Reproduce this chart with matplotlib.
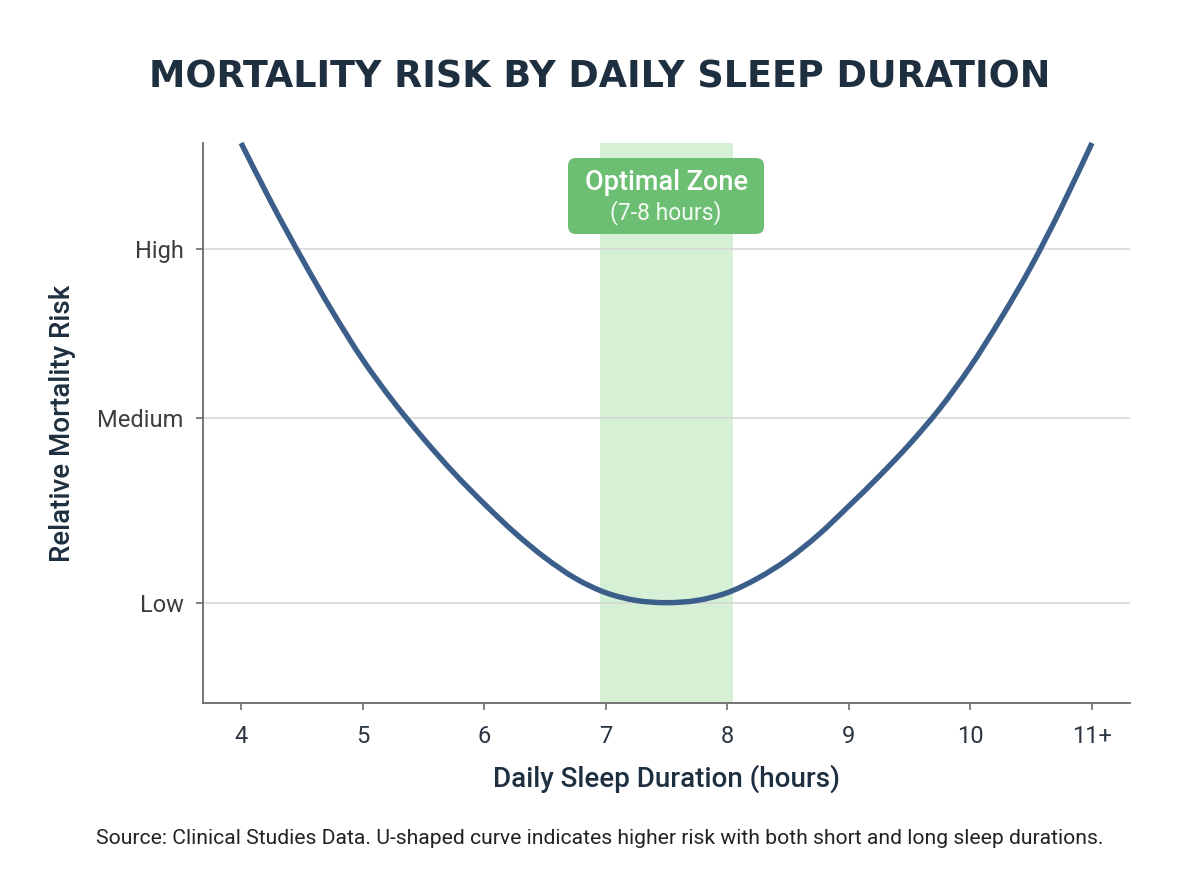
import matplotlib
matplotlib.use("Agg")
import matplotlib.pyplot as plt
import numpy as np
from matplotlib.patches import FancyBboxPatch, PathPatch
from matplotlib.path import Path

# curve, every quarter hour
hours = [4, 4.25, 4.5, 4.75, 5, 5.25, 5.5, 5.75, 6, 6.25, 6.5, 6.75, 7, 7.25,
         7.5, 7.75, 8, 8.25, 8.5, 8.75, 9, 9.25, 9.5, 9.75, 10, 10.25, 10.5,
         10.75, 11]
risk = [2.246, 2.084, 1.933, 1.790, 1.659, 1.546, 1.445, 1.352, 1.268, 1.190,
        1.122, 1.066, 1.027, 1.006, 1.000, 1.006, 1.027, 1.066, 1.118, 1.184,
        1.262, 1.343, 1.430, 1.527, 1.640, 1.770, 1.912, 2.072, 2.246]

x_ticks = [4, 5, 6, 7, 8, 9, 10, 11]
x_labels = ["4", "5", "6", "7", "8", "9", "10", "11+"]
y_ticks = [1.0, 1.5, 1.958]
y_labels = ["Low", "Medium", "High"]
optimal = (6.95, 8.05)

plt.rcParams["font.family"] = ["Roboto", "DejaVu Sans"]


def smooth_path(xs, ys):
    # cubic bezier segments through the read points (catmull-rom tangents)
    p = np.column_stack([xs, ys])
    verts = [p[0]]
    codes = [Path.MOVETO]
    for i in range(len(p) - 1):
        p0 = p[i - 1] if i > 0 else p[i]
        p3 = p[i + 2] if i + 2 < len(p) else p[i + 1]
        c1 = p[i] + (p[i + 1] - p0) / 6
        c2 = p[i + 1] - (p3 - p[i]) / 6
        verts += [c1, c2, p[i + 1]]
        codes += [Path.CURVE4] * 3
    return Path(verts, codes)


navy = "#1e2f40"
fig = plt.figure(figsize=(12, 8.96), dpi=100)
ax = fig.add_axes([0.1692, 0.2154, 0.7725, 0.625])

ax.axvspan(optimal[0], optimal[1], color="#d6f0d6", zorder=0, lw=0)
curve = PathPatch(smooth_path(hours, risk), facecolor="none",
                  edgecolor="#3b5f8a", lw=3.9, capstyle="butt", zorder=3,
                  clip_on=False)
ax.add_patch(curve)

ax.set_xlim(3.687, 11.313)
ax.set_ylim(0.728, 2.246)
ax.set_xticks(x_ticks)
ax.set_xticklabels(x_labels)
ax.set_yticks(y_ticks)
ax.set_yticklabels(y_labels)
ax.grid(axis="y", color="#d4d4d4", lw=1.1, zorder=1)
ax.set_axisbelow(True)

for s in ["top", "right"]:
    ax.spines[s].set_visible(False)
for s in ["left", "bottom"]:
    ax.spines[s].set_color("#6b6b6b")
    ax.spines[s].set_linewidth(1.3)

ax.tick_params(axis="both", length=5, width=1.2, color="#6b6b6b")
ax.tick_params(axis="x", labelsize=17, labelcolor="#2b3642", pad=11)
ax.tick_params(axis="y", labelsize=17, labelcolor="#3d3d3d", pad=9)

ax.set_xlabel("Daily Sleep Duration (hours)", fontsize=20, fontweight="medium",
              color=navy, va="center")
ax.xaxis.set_label_coords(0.5, -0.136)
ax.set_ylabel("Relative Mortality Risk", fontsize=20, fontweight="medium",
              color=navy, va="center")
ax.yaxis.set_label_coords(-0.152, 0.5)

# label box over the optimal zone
box = FancyBboxPatch((568 / 1200, 1 - 234 / 896), 196 / 1200, 76 / 896,
                     boxstyle="round,pad=0,rounding_size=0.0065",
                     mutation_aspect=1200 / 896, transform=fig.transFigure,
                     facecolor="#6cbf72", edgecolor="none", zorder=5)
fig.patches.append(box)
fig.text(666 / 1200, 1 - 183 / 896, "Optimal Zone", ha="center", va="center",
         fontsize=19.5, fontweight="medium", color="white", zorder=6)
fig.text(666 / 1200, 1 - 213 / 896, "(7-8 hours)", ha="center", va="center",
         fontsize=16.5, color="white", alpha=0.92, zorder=6)

fig.text(0.5, 1 - 77 / 896, "MORTALITY RISK BY DAILY SLEEP DURATION",
         ha="center", va="center", fontsize=26.3, fontweight="bold", color=navy,
         family=["DejaVu Sans"])

fig.text(0.5, 1 - 838 / 896,
         "Source: Clinical Studies Data. U-shaped curve indicates higher risk "
         "with both short and long sleep durations.",
         ha="center", va="center", fontsize=15.2, color="#222222")

fig.savefig("out.png", dpi=100, facecolor="white")
